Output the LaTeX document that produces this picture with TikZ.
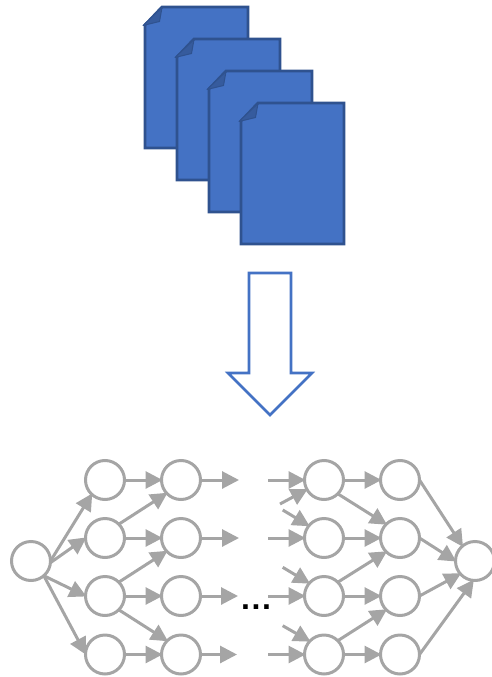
\documentclass[tikz,border=0pt]{standalone}
\usepackage{fontspec}
\setmainfont{Liberation Sans}
\usetikzlibrary{arrows.meta}
\definecolor{pageblue}{HTML}{4472C4}
\definecolor{pageedge}{HTML}{2F528F}
\definecolor{pagefold}{HTML}{365B9D}
\definecolor{netgray}{HTML}{A5A5A5}
\tikzset{
  neuron/.style={circle,draw=netgray,line width=3pt,fill=white,minimum size=39pt,inner sep=0pt,outer sep=0pt},
  link/.style={draw=netgray,line width=3pt,-{Triangle[length=17pt,width=17pt]},shorten >=-1pt},
  docpage/.style={fill=pageblue,draw=pageedge,line width=2.8pt,line join=miter},
  docfold/.style={fill=pagefold,draw=pageedge,line width=1pt,line join=round},
  downarrow/.style={fill=white,draw=pageblue,line width=2.6pt,line join=miter},
  dotslabel/.style={inner sep=0pt,font=\bfseries\fontsize{32}{32}\selectfont}
}
\begin{document}
\begin{tikzpicture}[x=1pt,y=-1pt]
\useasboundingbox (0,0) rectangle (492,677);
% document stack
\foreach \d in {0,32,64,96}{
  \begin{scope}[shift={(\d,\d)}]
    \path[docpage] (145,25) -- (162,7) -- (248,7) -- (248,148) -- (145,148) -- cycle;
    \path[docfold] (143,25.5) -- (162,7.5) -- (159.5,21.5) -- cycle;
  \end{scope}
}
% block arrow
\path[downarrow] (249,273) -- (291,273) -- (291,373) -- (312,373) -- (270,415) -- (228,373) -- (249,373) -- cycle;
% network
\node[neuron] (in) at (31,561) {};
\foreach \n/\y in {a/480,b/538,c/596,d/654.5}{
  \node[neuron] (p\n) at (105,\y) {};
  \node[neuron] (q\n) at (181,\y) {};
  \node[neuron] (r\n) at (324,\y) {};
  \node[neuron] (s\n) at (400,\y) {};
}
\node[neuron] (out) at (475,561) {};
\node[dotslabel] (dots) at (256,607) {.\kern1.6pt.\kern1.6pt.};
% free ends
\coordinate (ea) at (238,480);
\coordinate (eb) at (238,538);
\coordinate (ec) at (237,596);
\coordinate (ed) at (236,654.5);
\coordinate (fa) at (268,480);
\coordinate (fb) at (268,538);
\coordinate (fc) at (268,596);
\coordinate (fd) at (268,654.5);
\coordinate (ga) at (280,504);
\coordinate (gb) at (282.7,510);
\coordinate (gc) at (282.7,567.3);
\coordinate (gd) at (282.7,625.7);
% input fan
\draw[link] (in.0) -- (pa.227);
\draw[link] (in.-5) -- (pb.180);
\draw[link] (in.-49) -- (pc.180);
\draw[link] (in.-49) -- (pd.178);
% first layer
\foreach \n in {a,b,c,d}{ \draw[link] (p\n.east) -- (q\n.west); }
\draw[link] (pb.45) -- (qa.223);
\draw[link] (pc.45) -- (qb.223);
\draw[link] (pc.-45) -- (qd.135);
% stubs
\foreach \n in {a,b,c,d}{ \draw[link] (q\n.east) -- (e\n); }
\draw[link] (fa) -- (ra.west);
\draw[link] (fb) -- (rb.west);
\draw[link] (fc) -- (rc.west);
\draw[link] (fd) -- (rd.west);
\draw[link] (ga) -- (ra.209);
\draw[link] (gb) -- (rb.141);
\draw[link] (gc) -- (rc.139);
\draw[link] (gd) -- (rd.137);
% last layers
\foreach \n in {a,b,c,d}{ \draw[link] (r\n.east) -- (s\n.west); }
\draw[link] (ra.-45) -- (sb.135);
\draw[link] (rc.45) -- (sb.225);
\draw[link] (rd.45) -- (sc.225);
\draw[link] (sa.0) -- (out.130);
\draw[link] (sb.0) -- (out.180);
\draw[link] (sc.0) -- (out.221);
\draw[link] (sd.0) -- (out.265);
\end{tikzpicture}
\end{document}
